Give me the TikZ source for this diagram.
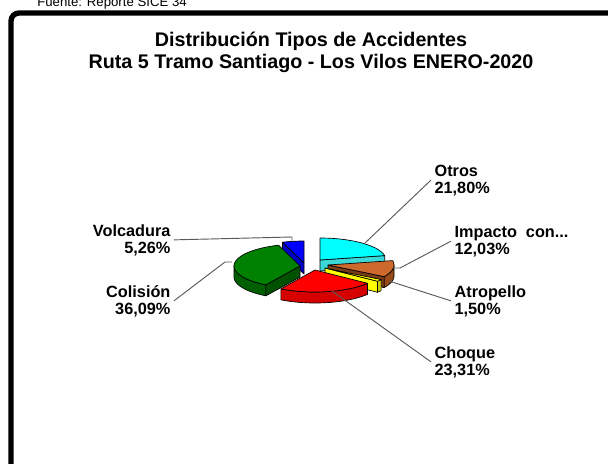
\documentclass[tikz,border=0pt]{standalone}
\usepackage{fontspec}
\setmainfont{Liberation Sans}
\usepackage{xcolor}

\definecolor{otrostop}{RGB}{0,255,255}
\definecolor{otroswall}{RGB}{60,215,215}
\definecolor{impactotop}{RGB}{205,105,45}
\definecolor{impactowall}{RGB}{150,75,25}
\definecolor{atropellotop}{RGB}{255,255,0}
\definecolor{atropellowall}{RGB}{205,205,0}
\definecolor{choquetop}{RGB}{255,0,0}
\definecolor{choquewall}{RGB}{215,0,0}
\definecolor{colisiontop}{RGB}{0,128,0}
\definecolor{colisionwall}{RGB}{0,95,0}
\definecolor{volcaduratop}{RGB}{0,0,255}
\definecolor{volcadurawall}{RGB}{0,0,200}

\begin{document}
\begin{tikzpicture}[x=0.75pt, y=-0.75pt,
    slice/.style={draw=black, line width=0.5pt, line join=round},
    leader/.style={draw=black!65, line width=0.7pt},
    lbl/.style={font=\bfseries\fontsize{12.2}{12.75}\selectfont, inner sep=2.5pt}
]
\useasboundingbox (0,0) rectangle (608,464);
\clip (0,0) rectangle (608,464);

% Source note and frame
\node[font=\fontsize{9.9}{11}\selectfont, anchor=base west, inner sep=0] (fuente) at (37,7) {Fuente: Reporte SICE 34};
\draw[line width=4pt, rounded corners=6] (11,490) |- (640,13);

% Title
\node[font=\bfseries\fontsize{14.8}{16.5}\selectfont, align=center] (titulo) at (311,52)
    {Distribución Tipos de Accidentes\\Ruta 5 Tramo Santiago - Los Vilos ENERO-2020};

% Pie, back slices first (rx=66, ry=22, depth=11)
% Volcadura 108.97 -> 90
\filldraw[slice, fill=volcadurawall] (304,263) -- ({304+66*cos(108.97)},{263-22*sin(108.97)}) -- ++(0,11) -- (304,274) -- cycle;
\filldraw[slice, fill=volcaduratop] (304,263) -- plot[domain=90:108.97, samples=10] ({304+66*cos(\x)},{263-22*sin(\x)}) -- cycle;

% Otros 11.52 -> 90
\filldraw[slice, fill=otroswall] (320,260) -- ({320+66*cos(11.52)},{260-22*sin(11.52)}) -- ++(0,11) -- (320,271) -- cycle;
\filldraw[slice, fill=otrostop] (320,260) -- plot[domain=11.52:90, samples=25] ({320+66*cos(\x)},{260-22*sin(\x)}) -- cycle;

% Colision 108.97 -> 238.89
\filldraw[slice, fill=colisionwall] plot[domain=180:238.89, samples=20] ({300+66*cos(\x)},{266-22*sin(\x)})
    -- plot[domain=238.89:180, samples=20] ({300+66*cos(\x)},{277-22*sin(\x)}) -- cycle;
\filldraw[slice, fill=colisionwall!85!black] (300,266) -- ({300+66*cos(238.89)},{266-22*sin(238.89)}) -- ++(0,11) -- (300,277) -- cycle;
\filldraw[slice, fill=colisiontop] (300,266) -- plot[domain=108.97:238.89, samples=35] ({300+66*cos(\x)},{266-22*sin(\x)}) -- cycle;

% Impacto con... -31.79 -> 11.52
\filldraw[slice, fill=impactowall] plot[domain=-31.79:0, samples=12] ({328+66*cos(\x)},{265-22*sin(\x)})
    -- plot[domain=0:-31.79, samples=12] ({328+66*cos(\x)},{276-22*sin(\x)}) -- cycle;
\filldraw[slice, fill=impactowall!80!black] (328,265) -- ({328+66*cos(-31.79)},{265-22*sin(-31.79)}) -- ++(0,11) -- (328,276) -- cycle;
\filldraw[slice, fill=impactotop] (328,265) -- plot[domain=-31.79:11.52, samples=15] ({328+66*cos(\x)},{265-22*sin(\x)}) -- cycle;

% Atropello -37.19 -> -31.79
\filldraw[slice, fill=atropellowall] plot[domain=-37.19:-31.79, samples=4] ({325+66*cos(\x)},{268-22*sin(\x)})
    -- plot[domain=-31.79:-37.19, samples=4] ({325+66*cos(\x)},{279-22*sin(\x)}) -- cycle;
\filldraw[slice, fill=atropellotop] (325,268) -- ({325+66*cos(-37.19)},{268-22*sin(-37.19)}) -- ++(0,11) -- (325,279) -- cycle;
\filldraw[slice, fill=atropellotop] (325,268) -- plot[domain=-37.19:-31.79, samples=4] ({325+66*cos(\x)},{268-22*sin(\x)}) -- cycle;

% Choque -121.11 -> -37.19
\filldraw[slice, fill=choquewall] plot[domain=-121.11:-37.19, samples=30] ({315+66*cos(\x)},{270-22*sin(\x)})
    -- plot[domain=-37.19:-121.11, samples=30] ({315+66*cos(\x)},{281-22*sin(\x)}) -- cycle;
\filldraw[slice, fill=choquetop] (315,270) -- plot[domain=-121.11:-37.19, samples=30] ({315+66*cos(\x)},{270-22*sin(\x)}) -- cycle;

% Labels (base = last line)
\node[lbl, anchor=base west, align=left] (otros) at (431,193) {Otros\\21,80\%};
\node[lbl, anchor=base west, align=left] (impacto) at (451,254) {Impacto\ \ con...\\12,03\%};
\node[lbl, anchor=base west, align=left] (atropello) at (451,314) {Atropello\\1,50\%};
\node[lbl, anchor=base west, align=left] (choque) at (431,375) {Choque\\23,31\%};
\node[lbl, anchor=base east, align=right] (volcadura) at (174,253) {Volcadura\\5,26\%};
\node[lbl, anchor=base east, align=right] (colision) at (174,314) {Colisión\\36,09\%};

% Leader lines
\coordinate (otrostip) at (365,243);
\coordinate (impactobend) at (400,268);
\coordinate (impactotip) at (393,268);
\coordinate (atropellotip) at (389,281);
\coordinate (choquetip) at (332,291);
\coordinate (volcadurabend) at (292,237);
\coordinate (volcaduratip) at (292,241);
\coordinate (colisionbend) at (225,262);
\coordinate (colisiontip) at (232,262);

\draw[leader] (otros.west) -- (otrostip);
\draw[leader] (impacto.west) -- (impactobend) -- (impactotip);
\draw[leader] (atropello.west) -- (atropellotip);
\draw[leader] (choque.west) -- (choquetip);
\draw[leader] (volcadura.east) -- (volcadurabend) -- (volcaduratip);
\draw[leader] (colision.east) -- (colisionbend) -- (colisiontip);

\end{tikzpicture}
\end{document}
